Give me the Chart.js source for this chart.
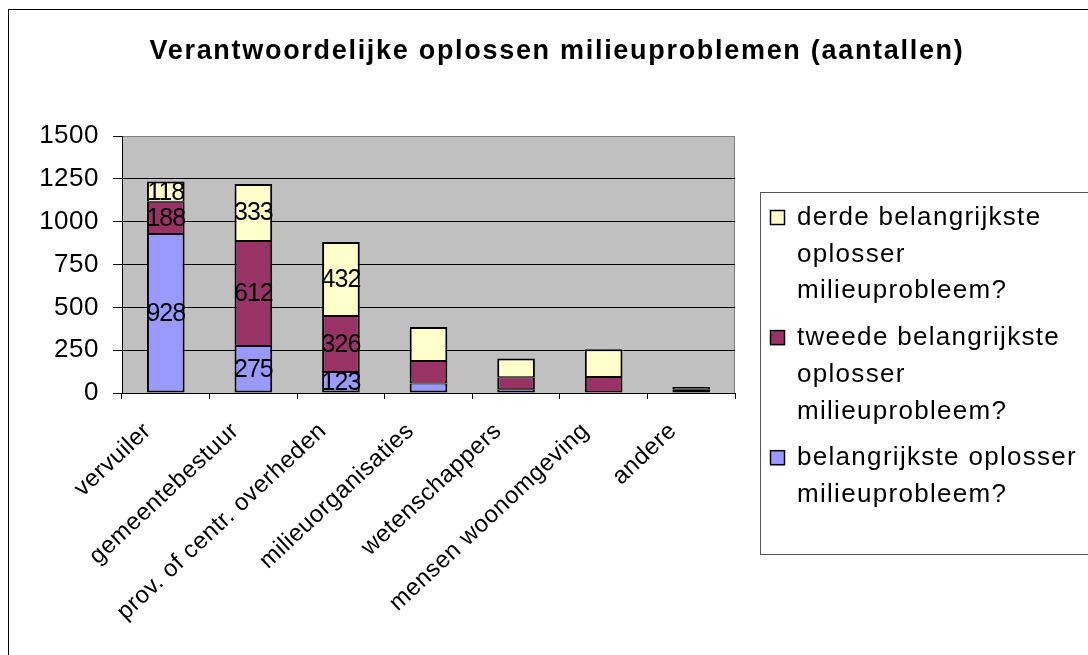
<!DOCTYPE html>
<html>
<head>
<meta charset="utf-8">
<script src="https://cdn.jsdelivr.net/npm/chart.js@4/dist/chart.umd.min.js"></script>
<style>
  body { margin: 0; background: #fff; }
  canvas { display: block; }
</style>
</head>
<body>
<canvas id="grafiek" width="1088" height="655"></canvas>
<script>
// gegevens
const categorieen = ['vervuiler', 'gemeentebestuur', 'prov. of centr. overheden', 'milieuorganisaties',
  'wetenschappers', 'mensen woonomgeving', 'andere'];
const belangrijkste = [928, 275, 123, 55, 22, 6, 12];
const tweede = [188, 612, 326, 132, 70, 87, 10];
const derde = [118, 333, 432, 198, 109, 162, 13];
const yTicks = [0, 250, 500, 750, 1000, 1250, 1500];
const metLabels = ['vervuiler', 'gemeentebestuur', 'prov. of centr. overheden'];
const titel = 'Verantwoordelijke oplossen milieuproblemen (aantallen)';

const lettertype = "'Liberation Sans', Arial, sans-serif";
Chart.defaults.font.family = lettertype;
Chart.defaults.color = '#000';

// achtergrond, kader, titel
const kaderPlugin = {
  id: 'kader',
  beforeDraw(chart) {
    const ctx = chart.ctx;
    const a = chart.chartArea;
    ctx.save();
    ctx.fillStyle = '#fff';
    ctx.fillRect(0, 0, chart.width, chart.height);
    ctx.strokeStyle = '#000';
    ctx.lineWidth = 1;
    ctx.strokeRect(8.5, 9.5, 1200, 1000);
    ctx.fillStyle = '#C0C0C0';
    ctx.fillRect(a.left, a.top, a.right - a.left, a.bottom - a.top);
    ctx.strokeStyle = '#808080';
    ctx.strokeRect(a.left + 0.5, a.top + 0.5, a.right - a.left - 1, a.bottom - a.top);
    ctx.letterSpacing = '1.7px';
    ctx.font = 'bold 27px ' + lettertype;
    ctx.fillStyle = '#000';
    ctx.textAlign = 'center';
    ctx.textBaseline = 'alphabetic';
    ctx.fillText(titel, 557, 59);
    ctx.restore();
    ctx.letterSpacing = '0.5px';
  }
};

// waarden in de staven
const labelPlugin = {
  id: 'waarden',
  afterDatasetsDraw(chart) {
    const ctx = chart.ctx;
    ctx.save();
    ctx.letterSpacing = '-1px';
    ctx.font = '25px ' + lettertype;
    ctx.fillStyle = '#000';
    ctx.textAlign = 'center';
    ctx.textBaseline = 'middle';
    chart.data.datasets.forEach((ds, i) => {
      const meta = chart.getDatasetMeta(i);
      meta.data.forEach((bar, j) => {
        if (!metLabels.includes(chart.data.labels[j])) return;
        ctx.fillText(String(ds.data[j]), bar.x, (bar.y + bar.base) / 2 + 1);
      });
    });
    ctx.restore();
  }
};

// legenda rechts
const legendaPlugin = {
  id: 'legenda',
  afterDraw(chart) {
    const ctx = chart.ctx;
    ctx.save();
    ctx.strokeStyle = '#555';
    ctx.lineWidth = 1;
    ctx.strokeRect(760.5, 192.5, 400, 362);
    ctx.letterSpacing = '1.3px';
    ctx.font = '26px ' + lettertype;
    ctx.textAlign = 'left';
    ctx.textBaseline = 'alphabetic';
    const maxBreedte = 288;
    let y = 225;
    const sets = chart.data.datasets.slice().reverse();
    sets.forEach(ds => {
      const woorden = ds.label.split(' ');
      const regels = [];
      let regel = '';
      woorden.forEach(w => {
        const test = regel ? regel + ' ' + w : w;
        if (regel && ctx.measureText(test).width > maxBreedte) {
          regels.push(regel);
          regel = w;
        } else {
          regel = test;
        }
      });
      regels.push(regel);
      ctx.fillStyle = ds.backgroundColor;
      ctx.fillRect(770, y - 15, 15, 15);
      ctx.strokeStyle = '#000';
      ctx.lineWidth = 1.5;
      ctx.strokeRect(770.5, y - 14.5, 14, 14);
      ctx.fillStyle = '#000';
      regels.forEach((r, k) => {
        ctx.fillText(r, 797, y + k * 36.7);
      });
      y += regels.length * 36.7 + 10;
    });
    ctx.restore();
  }
};

const randDikte = (c) => ({
  left: 2, right: 2,
  top: c.datasetIndex === 2 ? 2 : 1,
  bottom: c.datasetIndex === 0 ? 2 : 1
});

new Chart(document.getElementById('grafiek'), {
  type: 'bar',
  data: {
    labels: categorieen,
    datasets: [
      { label: 'belangrijkste oplosser milieuprobleem?', data: belangrijkste, backgroundColor: '#9999FF' },
      { label: 'tweede belangrijkste oplosser milieuprobleem?', data: tweede, backgroundColor: '#993366' },
      { label: 'derde belangrijkste oplosser milieuprobleem?', data: derde, backgroundColor: '#FFFFCC' }
    ]
  },
  options: {
    responsive: false,
    animation: false,
    layout: { padding: { left: 0, top: 136, right: 353, bottom: 0 } },
    datasets: {
      bar: {
        categoryPercentage: 1,
        barPercentage: 0.43,
        borderColor: '#000',
        borderWidth: randDikte,
        borderSkipped: false
      }
    },
    plugins: {
      legend: { display: false },
      title: { display: false },
      tooltip: { enabled: false }
    },
    scales: {
      x: {
        stacked: true,
        grid: { drawOnChartArea: false, drawTicks: true, tickLength: 6, color: '#000', offset: true },
        border: { color: '#000', width: 1 },
        ticks: {
          autoSkip: false, minRotation: 43, maxRotation: 43, padding: 18, labelOffset: -18,
          font: { size: 24 }, color: '#000'
        },
        afterFit(s) { s.height = 262; }
      },
      y: {
        stacked: true,
        min: 0,
        max: 1500,
        afterBuildTicks(s) { s.ticks = yTicks.map(v => ({ value: v })); },
        grid: {
          color: (c) => (c.tick && c.tick.value === 1500 ? '#808080' : '#000'),
          tickColor: '#000',
          tickLength: 9,
          lineWidth: 1
        },
        border: { color: '#000', width: 1 },
        ticks: { padding: 14, font: { size: 26 }, color: '#000', callback: (v) => String(v) },
        afterFit(s) { s.width = 122; }
      }
    }
  },
  plugins: [kaderPlugin, labelPlugin, legendaPlugin]
});
</script>
</body>
</html>
